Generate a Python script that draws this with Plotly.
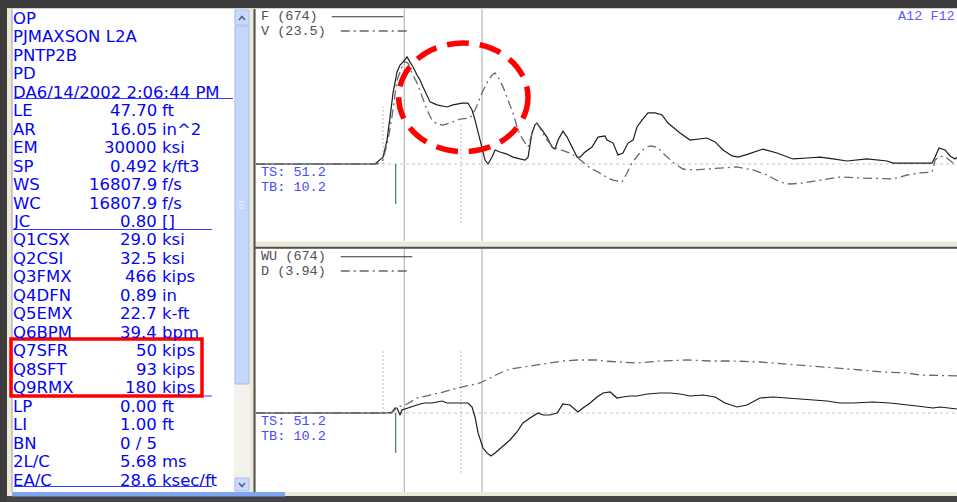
import plotly.graph_objects as go

# ---------------------------------------------------------------------------
# Record: PJMAXSON L2A / PNTP2B, blow 0 of 5
# ---------------------------------------------------------------------------
TS = 51.2          # time span shown (ms)
TB = 10.2          # time before impact (ms)
TWO_L_C = 5.68     # 2L/c (ms)
T_IMPACT = 0.63    # impact marker (ms)
T_MARK_A = -0.92   # dotted marker A (ms)
T_MARK_B = 4.77    # dotted marker B (ms)

F_SCALE = 674.0    # kips
V_SCALE = 23.5     # ft/s
WU_SCALE = 674.0   # kips
D_SCALE = 3.94     # in

# Force at the gauges (kips)
force_t = [-10.2, -1.51, -0.92, -0.63, -0.41, -0.19, 0.10, 0.32, 0.54, 0.83, 1.05, 1.27,
           1.56, 1.78, 2.00, 2.29, 2.51, 3.02, 3.75, 4.19, 4.85, 5.28, 5.58, 5.80, 6.02,
           6.31, 6.53, 6.75, 7.04, 7.26, 7.62, 8.13, 8.57, 9.08, 9.45, 9.67, 9.96, 10.18,
           10.32, 10.69, 11.05, 11.42, 11.64, 11.86, 12.22, 12.52, 12.88, 13.25, 13.47,
           13.83, 14.34, 14.78, 15.29, 15.44, 15.88, 16.24, 16.60, 16.97, 17.34, 17.63,
           17.99, 18.43, 18.94, 19.46, 19.89, 20.77, 21.50, 22.08, 22.74, 23.33, 23.91,
           24.57, 25.01, 25.74, 26.83, 27.85, 29.02, 30.05, 31.00, 31.95, 32.97, 34.43,
           35.89, 36.33, 36.84, 37.79, 39.18, 39.40, 39.69, 40.13, 40.49, 40.86, 41.00]
force = [0, 0, 30, 104, 204, 309, 400, 430, 443, 466, 443, 422,
         387, 365, 335, 300, 270, 257, 248, 257, 265, 265, 235, 191, 135,
         74, 17, 0, 30, 61, 52, 43, 30, 22, 17, 30, 135, 170,
         178, 148, 117, 74, 65, 104, 143, 117, 74, 30, 30,
         52, 74, 117, 122, 104, 91, 39, 48, 91, 104, 161,
         191, 222, 222, 213, 178, 135, 104, 109, 113, 96, 61,
         35, 30, 43, 65, 48, 22, 26, 30, 22, 13, 22,
         13, 4, 4, 4, 4, 30, 70, 61, 35, 22, 30]

# Particle velocity at the gauges (ft/s)
vel_t = [-10.2, -1.36, -0.92, -0.56, -0.27, 0.10, 0.46, 0.68, 0.90, 1.19, 1.56, 1.92,
         2.29, 2.65, 3.02, 3.46, 3.97, 4.70, 5.43, 5.80, 6.31, 6.67, 7.04, 7.26, 7.48,
         7.84, 8.21, 8.57, 8.94, 9.30, 9.67, 10.03, 10.32, 10.69, 11.05, 11.49, 12.73,
         13.32, 14.20, 14.78, 15.51, 15.88, 16.53, 16.90, 17.26, 17.70, 18.21, 18.58,
         19.09, 19.67, 20.40, 20.99, 21.72, 22.74, 23.69, 24.93, 26.10, 27.12, 28.07,
         28.80, 29.75, 31.00, 32.46, 33.92, 35.38, 36.33, 37.35, 38.30, 39.18, 39.40,
         39.76, 40.27, 40.71, 41.00]
velocity = [0, 0, 0.61, 3.64, 7.13, 12.7, 14.7, 15.5, 15.3, 13.8, 12.3, 10.2,
            8.19, 6.67, 6.06, 5.91, 6.22, 6.82, 6.97, 8.19, 10.8, 12.3, 13.5, 13.8, 13.2,
            11.7, 9.70, 7.73, 5.15, 3.64, 2.58, 5.15, 6.22, 4.85, 3.64, 2.58, 1.67,
            0.91, -0.61, -1.21, -2.12, -2.43, -2.73, -1.36, 0.15, 1.36, 2.43, 2.73,
            2.58, 1.36, 0, -0.76, -0.91, -0.76, -0.61, -0.45, -0.91, -1.67, -2.73,
            -3.03, -2.88, -2.43, -1.97, -2.12, -2.27, -2.27, -1.67, -1.36, -1.21, 0.61,
            1.21, 0.91, 0.15, 0]

# Upward travelling wave (kips)
wu_t = [-10.2, -1.00, -0.63, -0.27, -0.05, 0.10, 0.32, 0.46, 0.68, 1.05, 1.41, 1.78,
        2.14, 2.65, 3.02, 3.39, 3.75, 4.19, 4.85, 5.28, 5.58, 5.80, 6.02, 6.38, 6.67,
        6.96, 7.26, 7.77, 8.35, 8.86, 9.30, 9.81, 10.40, 10.76, 11.27, 11.79, 12.22,
        12.73, 13.32, 13.68, 14.20, 14.71, 15.15, 15.66, 16.17, 16.60, 17.12, 17.63,
        18.36, 19.31, 20.04, 20.77, 21.50, 22.45, 23.33, 24.06, 24.93, 25.66, 26.61,
        27.56, 28.58, 30.05, 31.51, 32.46, 33.41, 34.87, 36.11, 38.08, 39.25, 39.76, 41.00]
wave_up = [0, 0, 0, 4.1, 20.6, 20.6, -8.2, 12.3, 16.4, 24.7, 28.8, 37,
           41.1, 41.1, 45.2, 49.3, 41.1, 41.1, 41.1, 41.1, 24.7, -16.4, -82, -144, -164,
           -177, -164, -140, -111, -78, -41, -20.6, 0, -8.2, -8.2, 0, 37,
           32.9, 4.1, 20.6, 41.1, 65.8, 82.2, 86.3, 61.7, 65.8, 69.9, 69.9,
           78.1, 82.2, 82.2, 78.1, 69.9, 74.0, 65.8, 41.1, 24.7, 32.9, 61.7,
           65.8, 61.7, 57.5, 49.3, 41.1, 41.1, 45.2, 41.1, 28.8, 20.6, 24.7, 16.4]

# Pile top displacement (in)
disp_t = [-10.2, -0.30, 0.17, 0.83, 1.56, 2.51, 3.46, 4.48, 5.43, 6.16, 6.89, 7.62,
          8.35, 9.30, 10.32, 11.27, 12.22, 13.25, 14.71, 15.15, 16.39, 17.63, 19.31,
          21.28, 22.96, 24.64, 26.61, 28.58, 30.05, 31.95, 33.92, 35.60, 37.35, 38.30, 41.00]
displacement = [0, 0, 0.144, 0.216, 0.360, 0.432, 0.504, 0.600, 0.673, 0.721, 0.841, 0.961,
                1.057, 1.105, 1.153, 1.201, 1.249, 1.273, 1.273, 1.249, 1.225, 1.201, 1.249,
                1.273, 1.249, 1.249, 1.225, 1.177, 1.129, 1.081, 1.033, 0.985, 0.961, 0.913, 0.89]

# Parameter list
header_lines = ["OP", "PJMAXSON L2A", "PNTP2B", "PD", "DA6/14/2002 2:06:44 PM"]
param_names = ["LE", "AR", "EM", "SP", "WS", "WC", "JC", "Q1CSX", "Q2CSI", "Q3FMX",
               "Q4DFN", "Q5EMX", "Q6BPM", "Q7SFR", "Q8SFT", "Q9RMX", "LP", "LI", "BN",
               "2L/C", "EA/C"]
param_values = ["47.70", "16.05", "30000", "0.492", "16807.9", "16807.9", "0.80", "29.0",
                "32.5", "466", "0.89", "22.7", "39.4", "50", "93", "180", "0.00", "1.00",
                "0 / 5", "5.68", "28.6"]
param_units = ["ft", "in^2", "ksi", "k/ft3", "f/s", "f/s", "[]", "ksi", "ksi", "kips",
               "in", "k-ft", "bpm", "kips", "kips", "kips", "ft", "ft", "", "ms", "ksec/ft"]

# ---------------------------------------------------------------------------
W, H = 957, 502


def px(x):
    return x / W


def py(y):
    return 1 - y / H


BLUE_TXT = "#0505f0"
TRACE_DARK = "#1c1c1c"
TRACE_GREY = "#686868"
DASHDOT = "9px,4px,2px,4px"

fig = go.Figure()
fig.add_trace(go.Scatter(x=force_t, y=force, mode="lines", xaxis="x", yaxis="y",
                         line=dict(color=TRACE_DARK, width=1.2), hoverinfo="skip"))
fig.add_trace(go.Scatter(x=vel_t, y=velocity, mode="lines", xaxis="x", yaxis="y2",
                         line=dict(color=TRACE_GREY, width=1.3, dash=DASHDOT), hoverinfo="skip"))
fig.add_trace(go.Scatter(x=wu_t, y=wave_up, mode="lines", xaxis="x2", yaxis="y3",
                         line=dict(color=TRACE_DARK, width=1.2), hoverinfo="skip"))
fig.add_trace(go.Scatter(x=disp_t, y=displacement, mode="lines", xaxis="x2", yaxis="y4",
                         line=dict(color=TRACE_GREY, width=1.3, dash=DASHDOT), hoverinfo="skip"))

# panel geometry (pixels): upper 9..241, lower 249..492, both from x=256
x_dom = [px(256), 1.0]
top_dom = [py(241), py(9)]
bot_dom = [py(492), py(249)]
top_neg = (241 - 164) / (164 - 9)      # share below baseline in the upper panel
bot_neg = (492 - 413) / (413 - 249)    # share below baseline in the lower panel

hidden = dict(visible=False, showgrid=False, zeroline=False, fixedrange=True)
fig.update_layout(
    xaxis=dict(domain=x_dom, range=[-TB, TS - TB], anchor="y", **hidden),
    yaxis=dict(domain=top_dom, range=[-F_SCALE * top_neg, F_SCALE], anchor="x", **hidden),
    yaxis2=dict(overlaying="y", range=[-V_SCALE * top_neg, V_SCALE], anchor="x", **hidden),
    xaxis2=dict(domain=x_dom, range=[-TB, TS - TB], anchor="y3", **hidden),
    yaxis3=dict(domain=bot_dom, range=[-WU_SCALE * bot_neg, WU_SCALE], anchor="x2", **hidden),
    yaxis4=dict(overlaying="y3", range=[-D_SCALE * bot_neg, D_SCALE], anchor="x2", **hidden),
)

shapes = []


def rect(x0, y0, x1, y1, fill, line_color=None, lw=0, layer="below"):
    shapes.append(dict(type="rect", xref="paper", yref="paper",
                       x0=px(x0), x1=px(x1), y0=py(y1), y1=py(y0),
                       fillcolor=fill, layer=layer,
                       line=dict(width=lw, color=line_color or fill)))


def pline(x0, y0, x1, y1, color, width=1, dash="solid", layer="below"):
    shapes.append(dict(type="line", xref="paper", yref="paper",
                       x0=px(x0), x1=px(x1), y0=py(y0), y1=py(y1),
                       line=dict(color=color, width=width, dash=dash), layer=layer))


# window chrome
rect(0, 0, W, 8, "#3c3c3c")
rect(0, 8, W, 9, "#d4d0c8")
rect(0, 496, W, H, "#454545")
rect(0, 0, 7, H, "#3c3c3c")
rect(12, 9, 234, 492, "#ffffff")
pline(12, 9, 12, 492, "#a0a0a0", 1)
rect(234, 9, 250, 492, "#f4f2ec")
rect(235, 26, 249, 384, "#c5d6fc", "#a6bdee", 1)
rect(235, 10, 249, 25, "#cbdafc", "#a6bdee", 1)
rect(235, 478, 249, 491, "#cbdafc", "#a6bdee", 1)
for gy in (202, 205, 208):
    pline(239, gy, 245, gy, "#eef3fe", 1)
# scroll arrows
shapes.append(dict(type="path", xref="paper", yref="paper", layer="above",
                   path=f"M{px(239)},{py(20)} L{px(242)},{py(16.5)} L{px(245)},{py(20)}",
                   line=dict(color="#4d6185", width=1.6)))
shapes.append(dict(type="path", xref="paper", yref="paper", layer="above",
                   path=f"M{px(239)},{py(483)} L{px(242)},{py(486.5)} L{px(245)},{py(483)}",
                   line=dict(color="#4d6185", width=1.6)))
rect(256, 9, W, 241.5, "#ffffff")
rect(256, 249, W, 492, "#ffffff")
pline(254.5, 9, 254.5, 492, "#505050", 2)
pline(254, 247.8, W, 247.8, "#505050", 2)
rect(12, 492, 285, 496.5, "#7fa5ee", layer="above")

# underlines between parameter groups
ROW0, ROWH = 18.3, 18.47
pline(14, 98.5, 233, 98.5, "#3a3aff", 1)
pline(14, 229.5, 212, 229.5, "#3a3aff", 1)
pline(14, 396, 212, 396, "#3a3aff", 1)
pline(14, 486.5, 212, 486.5, "#3a3aff", 1)

# per-panel markers (data coordinates)
for xr, yr, yd in (("x", "y", "y domain"), ("x2", "y3", "y3 domain")):
    for tm in (T_IMPACT, T_IMPACT + TWO_L_C):
        shapes.append(dict(type="line", xref=xr, yref=yd, x0=tm, x1=tm, y0=0, y1=1,
                           line=dict(color="#a9a9a9", width=1), layer="below"))
    shapes.append(dict(type="line", xref=xr + " domain", yref=yr, x0=0, x1=1, y0=0, y1=0,
                       line=dict(color="#c4c4c4", width=1, dash="3px,3px"), layer="below"))

# dotted markers and impact ticks
shapes += [
    dict(type="line", xref="x", yref="y", x0=T_MARK_A, x1=T_MARK_A, y0=0, y1=248,
         line=dict(color="#bdbdbd", width=1, dash="2px,2px"), layer="below"),
    dict(type="line", xref="x", yref="y", x0=T_MARK_B, x1=T_MARK_B, y0=-256, y1=178,
         line=dict(color="#bdbdbd", width=1, dash="2px,2px"), layer="below"),
    dict(type="line", xref="x", yref="y", x0=0, x1=0, y0=0, y1=-174,
         line=dict(color="#4f8c8c", width=1.4), layer="below"),
    dict(type="line", xref="x2", yref="y3", x0=T_MARK_A, x1=T_MARK_A, y0=0, y1=259,
         line=dict(color="#bdbdbd", width=1, dash="2px,2px"), layer="below"),
    dict(type="line", xref="x2", yref="y3", x0=T_MARK_B, x1=T_MARK_B, y0=-247, y1=259,
         line=dict(color="#bdbdbd", width=1, dash="2px,2px"), layer="below"),
    dict(type="line", xref="x2", yref="y3", x0=0, x1=0, y0=0, y1=-164,
         line=dict(color="#4f8c8c", width=1.4), layer="below"),
]

# legend samples
pline(331.7, 16.7, 403.3, 16.7, "#333333", 1.1)
pline(340.7, 31, 406.7, 31, "#666666", 1.3, DASHDOT)
pline(340.7, 256.7, 412.3, 256.7, "#333333", 1.1)
pline(340.7, 271, 406.7, 271, "#666666", 1.3, DASHDOT)

# highlight marks
rect(11, 339, 202, 396, "rgba(0,0,0,0)", "#ff0000", 3.5, layer="above")
shapes.append(dict(type="circle", xref="paper", yref="paper", layer="above",
                   x0=px(398.7), x1=px(528), y0=py(151.7), y1=py(43),
                   line=dict(color="#ff0000", width=5.5, dash="22px,11px")))

annotations = []


def text(x, y, s, size, color, family, anchor="left"):
    annotations.append(dict(x=px(x), y=py(y), xref="paper", yref="paper", text=s,
                            showarrow=False, xanchor=anchor, yanchor="middle",
                            borderpad=0, borderwidth=0,
                            font=dict(size=size, color=color, family=family)))


SANS = "DejaVu Sans"
MONO = "Liberation Mono"
FS = 16.5
for i, s in enumerate(header_lines):
    text(13, ROW0 + ROWH * i, s, FS, BLUE_TXT, SANS)
for j, (n, v, u) in enumerate(zip(param_names, param_values, param_units)):
    yy = ROW0 + ROWH * (j + len(header_lines))
    text(13, yy, n, FS, BLUE_TXT, SANS)
    text(157, yy, v, FS, BLUE_TXT, SANS, anchor="right")
    if u:
        text(162, yy, u, FS, BLUE_TXT, SANS)

MS = 13.5
text(261, 16.2, f"F ({F_SCALE:.0f})", MS, "#505050", MONO)
text(261, 31.4, f"V ({V_SCALE:.1f})", MS, "#505050", MONO)
text(261, 256.2, f"WU ({WU_SCALE:.0f})", MS, "#505050", MONO)
text(261, 271.4, f"D ({D_SCALE:.2f})", MS, "#505050", MONO)
for base in (172.6, 421.4):
    text(261, base, f"TS: {TS}", MS, "#4a4aff", MONO)
    text(261, base + 14.9, f"TB: {TB}", MS, "#4a4aff", MONO)
text(955, 16.7, "A12 F12", MS, "#5a5aff", MONO, anchor="right")

fig.update_layout(
    width=W, height=H, autosize=False,
    margin=dict(l=0, r=0, t=0, b=0, pad=0),
    paper_bgcolor="#ece9d8", plot_bgcolor="rgba(0,0,0,0)",
    showlegend=False, shapes=shapes, annotations=annotations,
)

fig.write_html("out.html")
